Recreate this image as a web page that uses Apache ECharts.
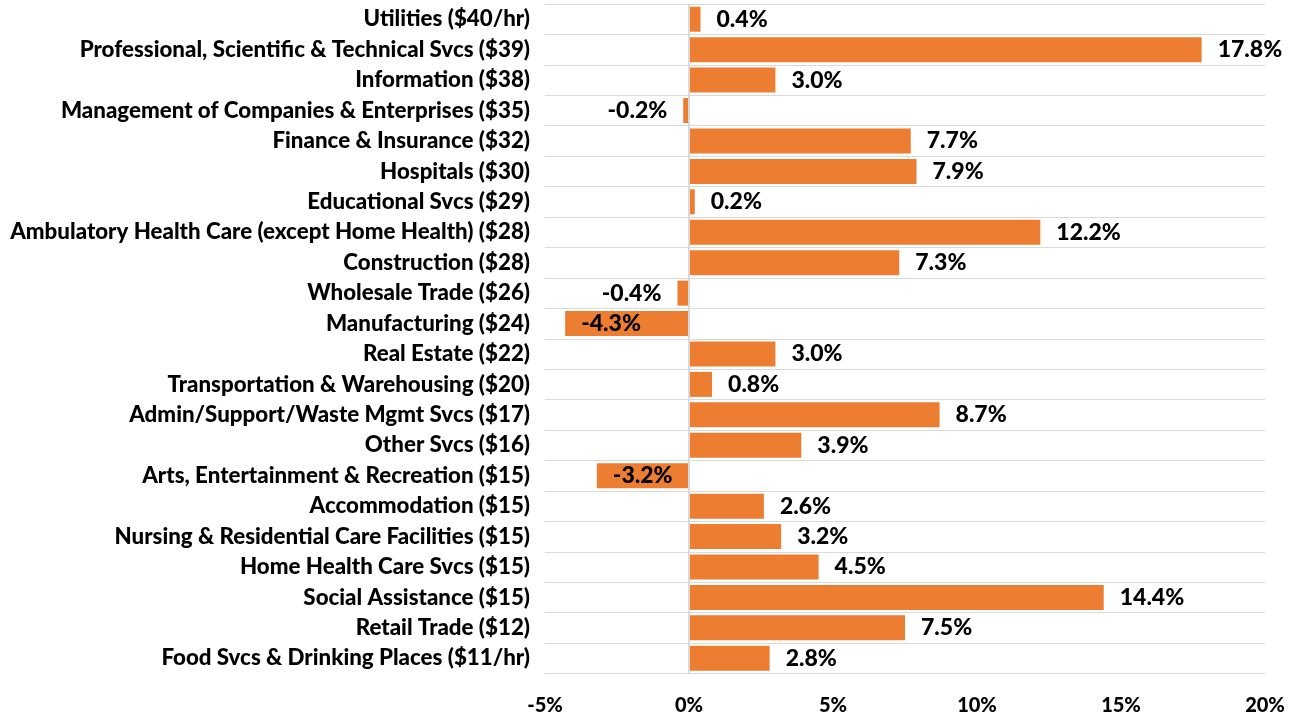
<!DOCTYPE html>
<html>
<head>
    <meta charset="UTF-8"/>
    <title>Wage growth by industry</title>
    <style>
        html, body { margin: 0; padding: 0; background: #fff; }
        #chart { width: 1305px; height: 717px; }
    </style>
</head>
<body>
<div id="chart"></div>
<script src="https://cdn.jsdelivr.net/npm/echarts@6/dist/echarts.min.js"></script>
<script>
    // 行业（按时薪排序，自上而下）
    const categories = [
        "Utilities ($40/hr)",
        "Professional, Scientific & Technical Svcs ($39)",
        "Information ($38)",
        "Management of Companies & Enterprises ($35)",
        "Finance & Insurance ($32)",
        "Hospitals ($30)",
        "Educational Svcs ($29)",
        "Ambulatory Health Care (except Home Health) ($28)",
        "Construction ($28)",
        "Wholesale Trade ($26)",
        "Manufacturing ($24)",
        "Real Estate ($22)",
        "Transportation & Warehousing ($20)",
        "Admin/Support/Waste Mgmt Svcs ($17)",
        "Other Svcs ($16)",
        "Arts, Entertainment & Recreation ($15)",
        "Accommodation ($15)",
        "Nursing & Residential Care Facilities ($15)",
        "Home Health Care Svcs ($15)",
        "Social Assistance ($15)",
        "Retail Trade ($12)",
        "Food Svcs & Drinking Places ($11/hr)"
    ];
    const changes = [0.4, 17.8, 3.0, -0.2, 7.7, 7.9, 0.2, 12.2, 7.3, -0.4, -4.3,
        3.0, 0.8, 8.7, 3.9, -3.2, 2.6, 3.2, 4.5, 14.4, 7.5, 2.8];
    const axisMin = -5, axisMax = 20, axisStep = 5;

    const font = "Lato";
    const weight = 900;
    const barData = changes.map(function (v) {
        let pos = v >= 0 ? "right" : "left";
        if (v < -1) pos = "insideLeft"; // 长的负值柱标签放在柱内
        return {value: v, label: {position: pos}};
    });

    const chart = echarts.init(document.getElementById("chart"));
    chart.setOption({
        animation: false,
        grid: {left: 545, right: 40, top: 4, bottom: 43.5, containLabel: false},
        xAxis: {
            type: "value",
            min: axisMin,
            max: axisMax,
            interval: axisStep,
            axisLine: {show: false},
            axisTick: {show: false},
            splitLine: {show: false},
            axisLabel: {
                formatter: "{value}%",
                margin: 22,
                fontFamily: font,
                fontWeight: weight,
                fontSize: 20,
                color: "#000"
            }
        },
        yAxis: {
            type: "category",
            inverse: true,
            data: categories,
            axisLine: {show: false},
            axisTick: {show: false},
            splitLine: {show: true, lineStyle: {color: "#D9D9D9", width: 1}},
            axisLabel: {
                margin: 15,
                fontFamily: font,
                fontWeight: weight,
                fontSize: 22.3,
                color: "#000"
            }
        },
        series: [{
            type: "bar",
            data: barData,
            barWidth: 25,
            itemStyle: {color: "#ED7D31"},
            label: {
                show: true,
                distance: 16,
                fontFamily: font,
                fontWeight: weight,
                fontSize: 23,
                color: "#000",
                formatter: function (p) { return p.value.toFixed(1) + "%"; }
            },
            markLine: {
                silent: true,
                symbol: "none",
                label: {show: false},
                lineStyle: {color: "#D9D9D9", width: 2, type: "solid"},
                data: [{xAxis: 0}]
            }
        }]
    });
</script>
</body>
</html>
